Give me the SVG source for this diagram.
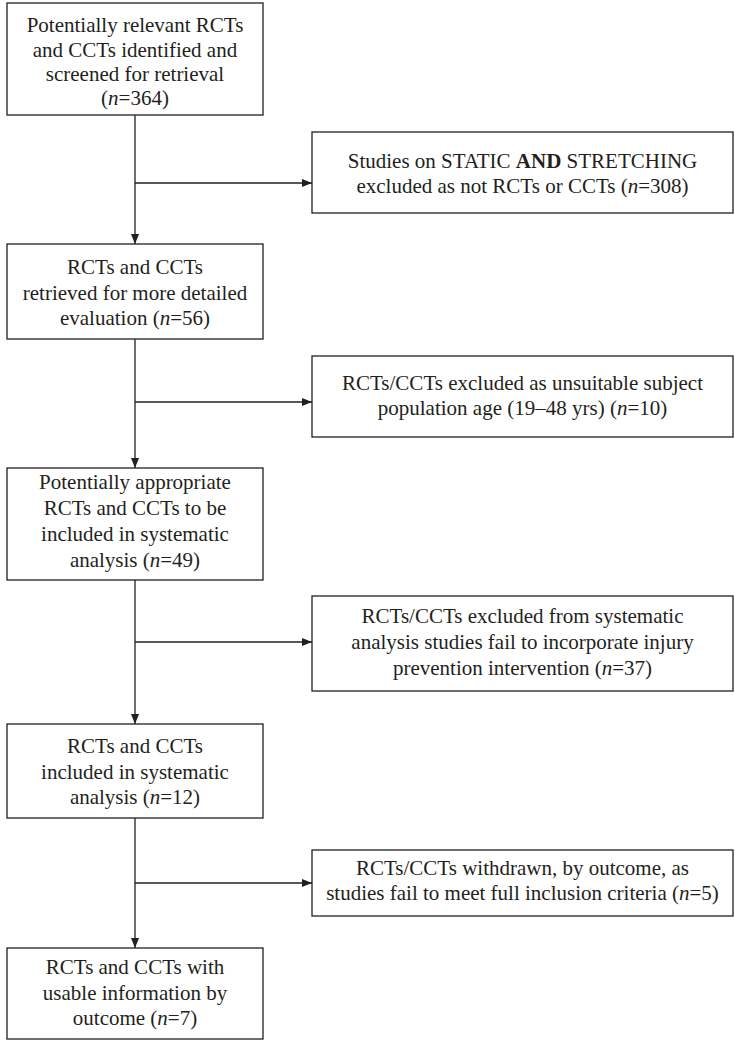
<svg xmlns="http://www.w3.org/2000/svg" width="735" height="1041" viewBox="0 0 735 1041">
<defs>
<style>
.box{fill:#fff;stroke:#231f20;stroke-width:1.3}
.ln{fill:none;stroke:#231f20;stroke-width:1.3}
text{font-family:"Liberation Serif","Times New Roman",serif;font-size:21px;fill:#231f20;text-anchor:middle}
.i{font-style:italic}
.b{font-weight:bold}
</style>
<marker id="ah" viewBox="0 0 10 8" refX="10" refY="4" markerWidth="10" markerHeight="8" markerUnits="userSpaceOnUse" orient="auto">
<path d="M0,0 L10,4 L0,8 z" fill="#231f20"/>
</marker>
</defs>
<rect width="735" height="1041" fill="#fff"/>
<g id="connectors">
<line class="ln" x1="135" y1="115" x2="135" y2="244" marker-end="url(#ah)"/>
<line class="ln" x1="135" y1="183" x2="312" y2="183" marker-end="url(#ah)"/>
<line class="ln" x1="135" y1="339" x2="135" y2="468" marker-end="url(#ah)"/>
<line class="ln" x1="135" y1="402" x2="312" y2="402" marker-end="url(#ah)"/>
<line class="ln" x1="135" y1="580" x2="135" y2="724" marker-end="url(#ah)"/>
<line class="ln" x1="135" y1="642" x2="312" y2="642" marker-end="url(#ah)"/>
<line class="ln" x1="135" y1="818" x2="135" y2="948" marker-end="url(#ah)"/>
<line class="ln" x1="135" y1="883" x2="312" y2="883" marker-end="url(#ah)"/>
</g>
<g id="n1">
<rect class="box" x="7" y="3" width="256" height="112"/>
<text x="135" y="32">Potentially relevant RCTs</text>
<text x="135" y="57">and CCTs identified and</text>
<text x="135" y="81">screened for retrieval</text>
<text x="135" y="105">(<tspan class="i">n</tspan>=364)</text>
</g>
<g id="n2">
<rect class="box" x="312" y="132" width="421" height="81"/>
<text x="522.5" y="168">Studies on STATIC <tspan class="b">AND</tspan> STRETCHING</text>
<text x="522.5" y="193">excluded as not RCTs or CCTs (<tspan class="i">n</tspan>=308)</text>
</g>
<g id="n3">
<rect class="box" x="7" y="244" width="256" height="95"/>
<text x="135" y="274">RCTs and CCTs</text>
<text x="135" y="299.5">retrieved for more detailed</text>
<text x="135" y="325">evaluation (<tspan class="i">n</tspan>=56)</text>
</g>
<g id="n4">
<rect class="box" x="312" y="356" width="421" height="81"/>
<text x="522.5" y="390">RCTs/CCTs excluded as unsuitable subject</text>
<text x="522.5" y="415">population age (19–48 yrs) (<tspan class="i">n</tspan>=10)</text>
</g>
<g id="n5">
<rect class="box" x="7" y="468" width="256" height="112"/>
<text x="135" y="489">Potentially appropriate</text>
<text x="135" y="515">RCTs and CCTs to be</text>
<text x="135" y="541">included in systematic</text>
<text x="135" y="567">analysis (<tspan class="i">n</tspan>=49)</text>
</g>
<g id="n6">
<rect class="box" x="312" y="596" width="421" height="95"/>
<text x="522.5" y="623">RCTs/CCTs excluded from systematic</text>
<text x="522.5" y="649">analysis studies fail to incorporate injury</text>
<text x="522.5" y="675">prevention intervention (<tspan class="i">n</tspan>=37)</text>
</g>
<g id="n7">
<rect class="box" x="7" y="724" width="256" height="94"/>
<text x="135" y="753">RCTs and CCTs</text>
<text x="135" y="779">included in systematic</text>
<text x="135" y="804">analysis (<tspan class="i">n</tspan>=12)</text>
</g>
<g id="n8">
<rect class="box" x="312" y="850" width="421" height="66"/>
<text x="522.5" y="875">RCTs/CCTs withdrawn, by outcome, as</text>
<text x="522.5" y="900">studies fail to meet full inclusion criteria (<tspan class="i">n</tspan>=5)</text>
</g>
<g id="n9">
<rect class="box" x="7" y="948" width="256" height="91"/>
<text x="135" y="974">RCTs and CCTs with</text>
<text x="135" y="1000">usable information by</text>
<text x="135" y="1025">outcome (<tspan class="i">n</tspan>=7)</text>
</g>
</svg>
